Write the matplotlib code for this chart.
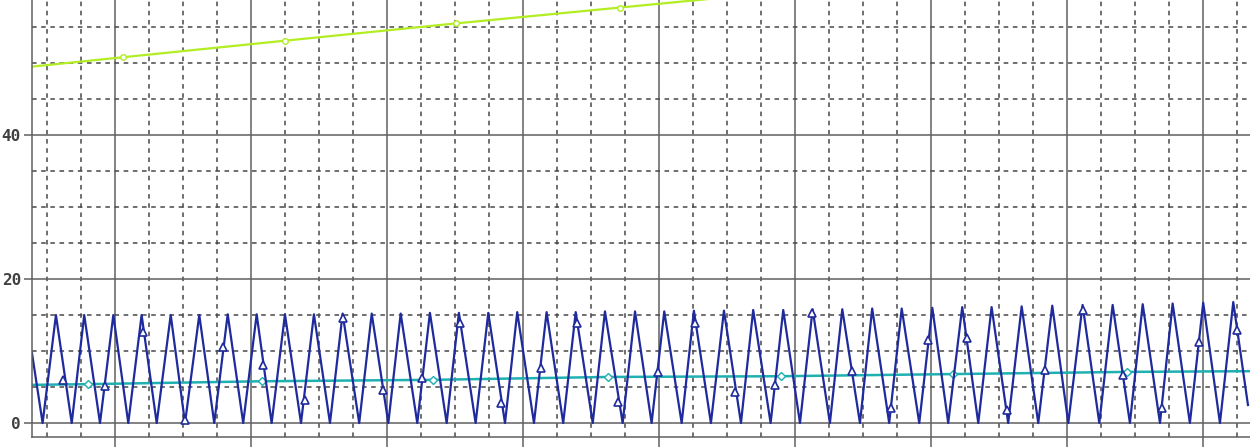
import numpy as np
import matplotlib
matplotlib.use("Agg")
from matplotlib import pyplot as plt
from matplotlib.ticker import MultipleLocator, NullFormatter

# oscillating series: turning points (x, value)
wave_x = [3.90, 4.68, 5.66, 6.82, 7.74, 8.90, 9.88, 10.98, 11.96, 13.07,
          14.10, 15.15, 16.20, 17.30, 18.29, 19.43, 20.42, 21.52, 22.50, 23.68,
          24.63, 25.81, 26.74, 27.96, 28.88, 30.10, 31.01, 32.23, 33.16, 34.39,
          35.29, 36.52, 37.45, 38.68, 39.58, 40.81, 41.74, 42.96, 43.88, 45.13,
          46.03, 47.33, 48.24, 49.46, 50.39, 51.67, 52.57, 53.82, 54.78, 56.03,
          56.93, 58.21, 59.14, 60.37, 61.30, 62.57, 63.48, 64.78, 65.68, 66.93,
          67.85, 69.14, 70.10, 71.27, 72.30, 73.48, 74.46, 75.68, 76.67, 77.89,
          78.92, 80.10, 81.15, 82.38, 83.36, 84.63, 85.57, 86.84, 87.77, 89.04,
          90.02, 91.25, 92.23, 93.31]
wave_y = [9.7, 0, 15.0, 0, 15.0, 0, 15.0, 0, 15.0, 0,
          15.0, 0, 15.0, 0, 15.1, 0, 15.1, 0, 15.1, 0,
          15.1, 0, 15.2, 0, 15.2, 0, 15.2, 0, 15.3, 0,
          15.3, 0, 15.3, 0, 15.4, 0, 15.4, 0, 15.4, 0,
          15.5, 0, 15.5, 0, 15.5, 0, 15.6, 0, 15.6, 0,
          15.7, 0, 15.7, 0, 15.8, 0, 15.8, 0, 15.9, 0,
          15.9, 0, 16.0, 0, 16.1, 0, 16.1, 0, 16.2, 0,
          16.3, 0, 16.4, 0, 16.4, 0, 16.5, 0, 16.6, 0,
          16.7, 0, 16.8, 2.5]
# sampled points on the oscillating series (triangle markers)
wave_mk_x = [6.18, 9.26, 12.06, 15.15, 17.94, 20.88, 23.97, 26.76, 29.71, 32.57,
             35.37, 38.38, 41.32, 43.97, 46.99, 49.93, 52.65, 55.59, 58.53, 61.25,
             64.19, 67.06, 69.78, 72.65, 75.59, 78.38, 81.18, 84.12, 86.99, 89.71, 92.50]
wave_mk_y = [6.0, 5.1, 12.7, 0.4, 10.6, 8.1, 3.2, 14.6, 4.6, 6.2,
             13.9, 2.8, 7.6, 13.9, 2.9, 7.1, 13.9, 4.3, 5.3, 15.3,
             7.2, 2.1, 11.5, 11.8, 1.8, 7.4, 15.7, 6.7, 2.1, 11.3, 12.9]

# slow teal series
teal_x = [3.90, 8.01, 20.81, 33.38, 46.25, 58.97, 71.62, 84.41, 93.46]
teal_y = [5.3, 5.4, 5.8, 6.0, 6.4, 6.5, 6.8, 7.1, 7.2]

# rising green series
green_x = [3.90, 10.59, 22.50, 35.07, 47.13, 59.70]
green_y = [49.5, 50.8, 53.1, 55.5, 57.7, 60.0]

y_ticks = [0, 20, 40]

W, H = 1250, 447
fig = plt.figure(figsize=(W / 100, H / 100), dpi=100)
ax = fig.add_axes([32 / W, 10 / H, 1 - 32 / W, 437 / H])

ax.set_xlim(3.90, 93.46)
ax.set_ylim(-1.94, 58.75)

ax.xaxis.set_major_locator(MultipleLocator(10))
ax.xaxis.set_minor_locator(MultipleLocator(2.5))
ax.yaxis.set_major_locator(MultipleLocator(20))
ax.yaxis.set_minor_locator(MultipleLocator(5))
ax.set_yticks(y_ticks)
ax.xaxis.set_major_formatter(NullFormatter())

ax.grid(which="major", color="#606060", linewidth=1.1, linestyle="-")
ax.grid(which="minor", color="#484848", linewidth=1.1, linestyle=(0, (3, 3)))
ax.set_axisbelow(True)

for s in ["top", "right"]:
    ax.spines[s].set_visible(False)
for s in ["left", "bottom"]:
    ax.spines[s].set_color("#606060")
    ax.spines[s].set_linewidth(1.1)

ax.tick_params(which="major", axis="y", length=6, width=1.1, color="#606060",
               pad=2, labelsize=11.5, labelcolor="#404040")
ax.tick_params(which="major", axis="x", length=7, width=1.1, color="#606060")
ax.tick_params(which="minor", length=0)
for lab in ax.get_yticklabels():
    lab.set_fontfamily("DejaVu Sans Mono")
    lab.set_fontweight("bold")

ax.plot(green_x, green_y, color="#b2ee22", linewidth=1.6, marker="o",
        markersize=4, markerfacecolor="white", markeredgecolor="#b2ee22",
        markevery=list(range(1, len(green_x))))
ax.plot(teal_x, teal_y, color="#1fb0b2", linewidth=1.8, marker="D",
        markersize=4, markerfacecolor="white", markeredgecolor="#1fb0b2",
        markevery=list(range(1, len(teal_x) - 1)))
ax.plot(wave_x, wave_y, color="#1f2a9c", linewidth=1.6)
ax.plot(wave_mk_x, wave_mk_y, linestyle="none", marker="^", markersize=6,
        markerfacecolor="white", markeredgecolor="#1f2a9c", markeredgewidth=1.2)

fig.savefig("out.png", dpi=100)
